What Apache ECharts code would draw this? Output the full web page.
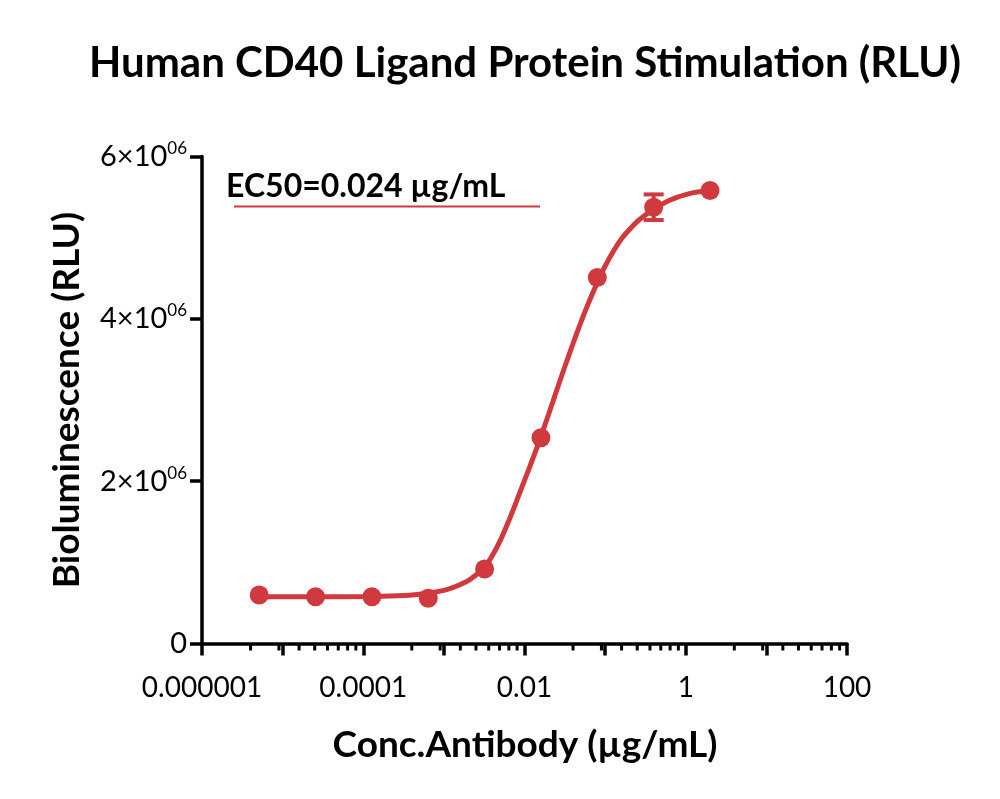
<!DOCTYPE html>
<html>
<head>
<meta charset="utf-8">
<script src="https://cdn.jsdelivr.net/npm/echarts@6/dist/echarts.min.js"></script>
<style>
html,body{margin:0;padding:0;background:#fff;}
#chart{width:1000px;height:799px;}
</style>
</head>
<body>
<div id="chart"></div>
<script>
// ---- data ----
const titleText = 'Human CD40 Ligand Protein Stimulation (RLU)';
const xAxisTitle = 'Conc.Antibody (\u00b5g/mL)';
const yAxisTitle = 'Bioluminescence (RLU)';
const ec50Text = 'EC50=0.024 \u00b5g/mL';

// measured points (concentration, mean RLU, error)
const concValues = [5.12e-6, 2.56e-5, 1.28e-4, 6.4e-4, 3.2e-3, 0.016, 0.08, 0.4, 2];
const rluValues  = [598000, 577000, 577000, 557000, 918000, 2535000, 4510000, 5375000, 5580000];
const rluErrors  = [0, 0, 0, 0, 0, 0, 0, 158000, 0];

// fitted curve
const curveConc = [5.12e-6, 2.5e-5, 1.26e-4, 3.2e-4, 6.3e-4, 1.0e-3, 1.26e-3, 1.58e-3, 2.0e-3, 2.5e-3, 3.16e-3, 3.98e-3, 5.01e-3, 6.31e-3, 7.94e-3, 1.0e-2, 1.26e-2, 1.58e-2, 2.0e-2, 2.51e-2, 3.16e-2, 3.98e-2, 5.01e-2, 6.31e-2, 7.94e-2, 0.1, 0.126, 0.158, 0.2, 0.251, 0.316, 0.398, 0.501, 0.631, 0.794, 1.0, 1.26, 1.58, 2.04];
const curveRlu  = [575000, 575000, 578000, 590000, 620000, 655000, 685000, 725000, 775000, 845000, 930000, 1080000, 1270000, 1500000, 1750000, 2010000, 2270000, 2540000, 2830000, 3120000, 3410000, 3690000, 3960000, 4210000, 4440000, 4650000, 4830000, 4980000, 5100000, 5200000, 5280000, 5350000, 5410000, 5460000, 5500000, 5530000, 5555000, 5570000, 5580000];

// axis ticks
const xMin = 1e-6, xMax = 100;
const xTickValues = [1e-6, 1e-4, 1e-2, 1, 100];
const xTickLabels = ['0.000001', '0.0001', '0.01', '1', '100'];
const xMinorTicks = [
  4e-6, 9e-6, 1.6e-5, 2.5e-5, 3.6e-5, 4.9e-5, 6.4e-5, 8.1e-5,
  4e-4, 9e-4, 1.6e-3, 2.5e-3, 3.6e-3, 4.9e-3, 6.4e-3, 8.1e-3,
  0.04, 0.09, 0.16, 0.25, 0.36, 0.49, 0.64, 0.81,
  4, 9, 16, 25, 36, 49, 64, 81
];
const yMin = 0, yMax = 6000000, yInterval = 2000000;
const yTickMantissa = ['0', '2\u00d710', '4\u00d710', '6\u00d710'];
const yTickExponent = ['', '06', '06', '06'];

// ---- chart ----
const RED = '#d0393e';
const FONT = 'Lato, "Open Sans", sans-serif';
const chart = echarts.init(document.getElementById('chart'), null, {renderer: 'canvas'});

const pointData = concValues.map((c, i) => [c, rluValues[i]]);
const curveData = curveConc.map((c, i) => [c, curveRlu[i]]);
const errData = concValues.map((c, i) => [c, rluValues[i] - rluErrors[i], rluValues[i] + rluErrors[i]]).filter((d, i) => rluErrors[i] > 0);
const minorData = xMinorTicks.map(v => [v, 0]);

function xLabel(v) {
  let best = 0, bd = Infinity;
  xTickValues.forEach((t, i) => { const d = Math.abs(Math.log10(v) - Math.log10(t)); if (d < bd) { bd = d; best = i; } });
  return bd < 0.01 ? xTickLabels[best] : '';
}
function yLabel(v) {
  const i = Math.round((v - yMin) / yInterval);
  if (!yTickExponent[i]) return '{m|' + yTickMantissa[i] + '}';
  return '{m|' + yTickMantissa[i] + '}{s|' + yTickExponent[i] + '}';
}

chart.setOption({
  animation: false,
  backgroundColor: '#fff',
  grid: {left: 202, right: 153, top: 156.5, bottom: 155.5, containLabel: false},
  xAxis: {
    type: 'log', logBase: 10, min: xMin, max: xMax, splitNumber: 4,
    axisLine: {show: true, onZero: false, lineStyle: {color: '#000', width: 3.5}},
    axisTick: {show: true, length: 12, lineStyle: {color: '#000', width: 3.5}},
    axisLabel: {formatter: xLabel, color: '#000', fontFamily: FONT, fontSize: 28, margin: 30, showMinLabel: true, showMaxLabel: true},
    splitLine: {show: false},
    minorTick: {show: false}
  },
  yAxis: {
    type: 'value', min: yMin, max: yMax, interval: yInterval,
    axisLine: {show: true, lineStyle: {color: '#000', width: 3.5}},
    axisTick: {show: true, length: 12, lineStyle: {color: '#000', width: 3.5}},
    axisLabel: {
      formatter: yLabel, margin: 15,
      rich: {
        m: {fontFamily: FONT, fontSize: 29, color: '#000'},
        s: {fontFamily: FONT, fontSize: 17, color: '#000', padding: [0, 0, 16, 0]}
      }
    },
    splitLine: {show: false}
  },
  graphic: [
    {type: 'text', x: 525, y: 63, style: {text: titleText, font: 'bold 42px ' + FONT, fill: '#000', textAlign: 'center', textVerticalAlign: 'middle'}},
    {type: 'text', x: 525, y: 745, style: {text: xAxisTitle, font: 'bold 37px ' + FONT, fill: '#000', textAlign: 'center', textVerticalAlign: 'middle'}},
    {type: 'text', x: 67, y: 400, rotation: Math.PI / 2, style: {text: yAxisTitle, font: 'bold 37px ' + FONT, fill: '#000', textAlign: 'center', textVerticalAlign: 'middle'}},
    {type: 'text', x: 226, y: 187, style: {text: ec50Text, font: 'bold 32px ' + FONT, fill: '#000', textAlign: 'left', textVerticalAlign: 'middle'}},
    {type: 'line', shape: {x1: 234, y1: 206.5, x2: 540, y2: 206.5}, style: {stroke: RED, lineWidth: 2}}
  ],
  series: [
    {
      type: 'custom', coordinateSystem: 'cartesian2d', data: minorData, clip: false, silent: true, z: 1,
      renderItem: (params, api) => {
        const p = api.coord([api.value(0), api.value(1)]);
        return {type: 'line', shape: {x1: p[0], y1: p[1], x2: p[0], y2: p[1] + 7}, style: {stroke: '#000', lineWidth: 3}};
      }
    },
    {
      type: 'line', data: curveData, smooth: 0.3, showSymbol: false, symbol: 'none',
      lineStyle: {color: RED, width: 5}, z: 3
    },
    {
      type: 'custom', coordinateSystem: 'cartesian2d', data: errData, z: 4, clip: false,
      renderItem: (params, api) => {
        const lo = api.coord([api.value(0), api.value(1)]);
        const hi = api.coord([api.value(0), api.value(2)]);
        const w = 10;
        return {type: 'group', children: [
          {type: 'line', shape: {x1: lo[0], y1: lo[1], x2: hi[0], y2: hi[1]}, style: {stroke: RED, lineWidth: 4}},
          {type: 'line', shape: {x1: lo[0] - w, y1: lo[1], x2: lo[0] + w, y2: lo[1]}, style: {stroke: RED, lineWidth: 4}},
          {type: 'line', shape: {x1: hi[0] - w, y1: hi[1], x2: hi[0] + w, y2: hi[1]}, style: {stroke: RED, lineWidth: 4}}
        ]};
      }
    },
    {
      type: 'scatter', data: pointData, symbol: 'circle', symbolSize: 19,
      itemStyle: {color: RED, opacity: 1}, z: 5
    }
  ]
});
</script>
</body>
</html>
